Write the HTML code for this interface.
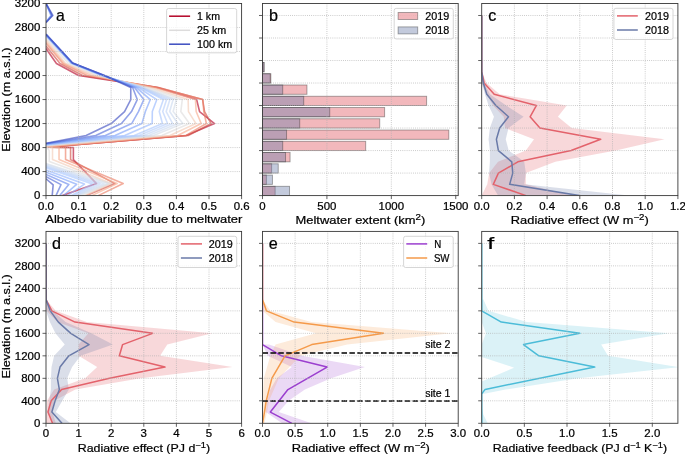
<!DOCTYPE html>
<html><head><meta charset="utf-8"><title>Figure</title><style>html,body{margin:0;padding:0;background:#fff;width:685px;height:455px;overflow:hidden}</style></head><body>
<svg width="685" height="455" viewBox="0 0 685 455" style="display:block;will-change:transform;font-family:'Liberation Sans', sans-serif">
<rect x="0" y="0" width="685" height="455" fill="#ffffff"/>
<clipPath id="clip1"><rect x="46" y="3.5" width="195.6" height="192.1"/></clipPath><g clip-path="url(#clip1)">
<polyline points="62.3,195.6 96.53,183.59 73.38,159.58 73.38,147.57 46,147.27 186.18,135.57 214.54,123.56 199.55,111.56 196.61,99.55 156.84,87.54 78.6,75.54 56.43,63.53 46,48.52" fill="none" stroke="#b40426" stroke-width="1.6" stroke-opacity="0.62" stroke-linejoin="round" stroke-linecap="butt"/>
<polyline points="86.37,195.6 114.79,183.59 70.58,159.58 70.58,147.57 46,147.27 188.19,135.57 211.13,123.56 204.56,111.56 202.63,99.55 158.44,87.54 82.61,75.54 60.04,63.53 46,45.94" fill="none" stroke="#d1493f" stroke-width="1.6" stroke-opacity="0.62" stroke-linejoin="round" stroke-linecap="butt"/>
<polyline points="98.16,195.6 123.2,183.59 65.56,159.58 65.56,147.57 46,147.09 185.53,135.57 206.39,123.56 203.85,111.56 202.74,99.55 157.62,87.54 87.08,75.54 62.95,63.53 46,43.36" fill="none" stroke="#eb7d62" stroke-width="1.6" stroke-opacity="0.62" stroke-linejoin="round" stroke-linecap="butt"/>
<polyline points="91.64,195.6 117.2,183.59 59.04,159.58 59.04,147.57 46,146.73 177.7,135.57 201.18,123.56 196.16,111.56 195.44,99.55 153.97,87.54 90.99,75.54 64.26,63.53 46,41.44" fill="none" stroke="#f7a98b" stroke-width="1.6" stroke-opacity="0.62" stroke-linejoin="round" stroke-linecap="butt"/>
<polyline points="85.12,195.6 111.2,183.59 52.52,159.58 52.52,147.57 46,146.37 169.88,135.57 195.96,123.56 188.46,111.56 188.14,99.55 150.32,87.54 94.9,75.54 65.56,63.53 46,39.52" fill="none" stroke="#f2cab5" stroke-width="1.6" stroke-opacity="0.62" stroke-linejoin="round" stroke-linecap="butt"/>
<polyline points="81.86,195.6 109.57,183.59 49.26,161.53 49.26,150.58 46,145.77 161.73,135.57 189.44,123.56 180.8,111.56 182.27,99.55 147.06,87.54 98.16,75.54 68.17,63.23 46,37.72" fill="none" stroke="#dddcdc" stroke-width="1.6" stroke-opacity="0.62" stroke-linejoin="round" stroke-linecap="butt"/>
<polyline points="78.6,195.6 107.94,183.59 46,163.48" fill="none" stroke="#d4dbe6" stroke-width="1.6" stroke-opacity="0.62" stroke-linejoin="round" stroke-linecap="butt"/>
<polyline points="46,145.17 153.58,135.57 182.92,123.56 173.14,111.56 176.4,99.55 143.8,87.54 101.42,75.54 70.78,62.93 46,35.92" fill="none" stroke="#d4dbe6" stroke-width="1.6" stroke-opacity="0.62" stroke-linejoin="round" stroke-linecap="butt"/>
<polyline points="76.71,195.6 104.03,183.68 46,164.58" fill="none" stroke="#cad8ef" stroke-width="1.6" stroke-opacity="0.62" stroke-linejoin="round" stroke-linecap="butt"/>
<polyline points="46,145.04 148.76,135.57 177.8,123.56 169.67,111.56 173.14,99.55 142.87,87.54 101.65,75.54 70.92,62.93 46,35.79" fill="none" stroke="#cad8ef" stroke-width="1.6" stroke-opacity="0.62" stroke-linejoin="round" stroke-linecap="butt"/>
<polyline points="74.83,195.6 100.12,183.77 46,165.67" fill="none" stroke="#c0d4f5" stroke-width="1.6" stroke-opacity="0.62" stroke-linejoin="round" stroke-linecap="butt"/>
<polyline points="46,144.9 143.94,135.57 172.67,123.56 166.2,111.56 169.88,99.55 141.94,87.54 101.89,75.54 71.06,62.93 46,35.66" fill="none" stroke="#c0d4f5" stroke-width="1.6" stroke-opacity="0.62" stroke-linejoin="round" stroke-linecap="butt"/>
<polyline points="72.94,195.6 96.2,183.85 46,166.76" fill="none" stroke="#b5cdfa" stroke-width="1.6" stroke-opacity="0.62" stroke-linejoin="round" stroke-linecap="butt"/>
<polyline points="46,144.76 139.12,135.57 167.55,123.56 162.73,111.56 166.62,99.55 141.01,87.54 102.12,75.54 71.2,62.93 46,35.53" fill="none" stroke="#b5cdfa" stroke-width="1.6" stroke-opacity="0.62" stroke-linejoin="round" stroke-linecap="butt"/>
<polyline points="71.06,195.6 92.29,183.94 46,167.86" fill="none" stroke="#aac7fd" stroke-width="1.6" stroke-opacity="0.62" stroke-linejoin="round" stroke-linecap="butt"/>
<polyline points="46,144.62 134.3,135.57 162.43,123.56 159.26,111.56 163.36,99.55 140.07,87.54 102.35,75.54 71.33,62.93 46,35.4" fill="none" stroke="#aac7fd" stroke-width="1.6" stroke-opacity="0.62" stroke-linejoin="round" stroke-linecap="butt"/>
<polyline points="67.28,195.6 84.47,184.11 46,170.04" fill="none" stroke="#93b5fe" stroke-width="1.6" stroke-opacity="0.62" stroke-linejoin="round" stroke-linecap="butt"/>
<polyline points="46,144.35 124.66,135.57 152.18,123.56 152.32,111.56 156.84,99.55 138.21,87.54 102.82,75.54 71.61,62.93 46,35.15" fill="none" stroke="#93b5fe" stroke-width="1.6" stroke-opacity="0.62" stroke-linejoin="round" stroke-linecap="butt"/>
<polyline points="63.51,195.6 76.64,184.28 46,172.23" fill="none" stroke="#7b9ff9" stroke-width="1.6" stroke-opacity="0.62" stroke-linejoin="round" stroke-linecap="butt"/>
<polyline points="46,144.08 115.02,135.57 141.94,123.56 145.38,111.56 150.32,99.55 136.35,87.54 103.28,75.54 71.89,62.93 46,34.89" fill="none" stroke="#7b9ff9" stroke-width="1.6" stroke-opacity="0.62" stroke-linejoin="round" stroke-linecap="butt"/>
<polyline points="46,22.09 50.89,15.51 46,3.5" fill="none" stroke="#7b9ff9" stroke-width="1.6" stroke-opacity="0.62" stroke-linejoin="round" stroke-linecap="butt"/>
<polyline points="59.74,195.6 68.82,184.45 46,174.42" fill="none" stroke="#6485ec" stroke-width="1.6" stroke-opacity="0.62" stroke-linejoin="round" stroke-linecap="butt"/>
<polyline points="46,143.8 105.38,135.57 131.69,123.56 138.44,111.56 143.8,99.55 134.49,87.54 103.75,75.54 72.17,62.93 46,34.63" fill="none" stroke="#6485ec" stroke-width="1.6" stroke-opacity="0.62" stroke-linejoin="round" stroke-linecap="butt"/>
<polyline points="46,22.24 51.54,15.51 46,3.5" fill="none" stroke="#6485ec" stroke-width="1.6" stroke-opacity="0.62" stroke-linejoin="round" stroke-linecap="butt"/>
<polyline points="55.97,195.6 61,184.62 46,176.6" fill="none" stroke="#4f69d9" stroke-width="1.6" stroke-opacity="0.62" stroke-linejoin="round" stroke-linecap="butt"/>
<polyline points="46,143.53 95.74,135.57 121.45,123.56 131.51,111.56 137.28,99.55 132.62,87.54 104.21,75.54 72.45,62.93 46,34.37" fill="none" stroke="#4f69d9" stroke-width="1.6" stroke-opacity="0.62" stroke-linejoin="round" stroke-linecap="butt"/>
<polyline points="46,22.38 52.19,15.51 46,3.5" fill="none" stroke="#4f69d9" stroke-width="1.6" stroke-opacity="0.62" stroke-linejoin="round" stroke-linecap="butt"/>
<polyline points="52.19,195.6 53.17,184.79 46,178.79" fill="none" stroke="#3b4cc0" stroke-width="1.6" stroke-opacity="0.62" stroke-linejoin="round" stroke-linecap="butt"/>
<polyline points="46,143.25 86.1,135.57 111.2,123.56 124.57,111.56 130.76,99.55 130.76,87.54 104.68,75.54 72.73,62.93 46,34.12" fill="none" stroke="#3b4cc0" stroke-width="1.6" stroke-opacity="0.62" stroke-linejoin="round" stroke-linecap="butt"/>
<polyline points="46,22.53 52.85,15.51 46,3.5" fill="none" stroke="#3b4cc0" stroke-width="1.6" stroke-opacity="0.62" stroke-linejoin="round" stroke-linecap="butt"/>
<line x1="78.6" y1="3.5" x2="78.6" y2="195.6" stroke="#b0b0b0" stroke-width="0.8" stroke-dasharray="0.8 1.32"/>
<line x1="111.2" y1="3.5" x2="111.2" y2="195.6" stroke="#b0b0b0" stroke-width="0.8" stroke-dasharray="0.8 1.32"/>
<line x1="143.8" y1="3.5" x2="143.8" y2="195.6" stroke="#b0b0b0" stroke-width="0.8" stroke-dasharray="0.8 1.32"/>
<line x1="176.4" y1="3.5" x2="176.4" y2="195.6" stroke="#b0b0b0" stroke-width="0.8" stroke-dasharray="0.8 1.32"/>
<line x1="209" y1="3.5" x2="209" y2="195.6" stroke="#b0b0b0" stroke-width="0.8" stroke-dasharray="0.8 1.32"/>
<line x1="46" y1="171.59" x2="241.6" y2="171.59" stroke="#b0b0b0" stroke-width="0.8" stroke-dasharray="0.8 1.32"/>
<line x1="46" y1="147.57" x2="241.6" y2="147.57" stroke="#b0b0b0" stroke-width="0.8" stroke-dasharray="0.8 1.32"/>
<line x1="46" y1="123.56" x2="241.6" y2="123.56" stroke="#b0b0b0" stroke-width="0.8" stroke-dasharray="0.8 1.32"/>
<line x1="46" y1="99.55" x2="241.6" y2="99.55" stroke="#b0b0b0" stroke-width="0.8" stroke-dasharray="0.8 1.32"/>
<line x1="46" y1="75.54" x2="241.6" y2="75.54" stroke="#b0b0b0" stroke-width="0.8" stroke-dasharray="0.8 1.32"/>
<line x1="46" y1="51.53" x2="241.6" y2="51.53" stroke="#b0b0b0" stroke-width="0.8" stroke-dasharray="0.8 1.32"/>
<line x1="46" y1="27.51" x2="241.6" y2="27.51" stroke="#b0b0b0" stroke-width="0.8" stroke-dasharray="0.8 1.32"/>
</g>
<line x1="46" y1="195.6" x2="46" y2="199.1" stroke="#383838" stroke-width="0.8"/>
<line x1="78.6" y1="195.6" x2="78.6" y2="199.1" stroke="#383838" stroke-width="0.8"/>
<line x1="111.2" y1="195.6" x2="111.2" y2="199.1" stroke="#383838" stroke-width="0.8"/>
<line x1="143.8" y1="195.6" x2="143.8" y2="199.1" stroke="#383838" stroke-width="0.8"/>
<line x1="176.4" y1="195.6" x2="176.4" y2="199.1" stroke="#383838" stroke-width="0.8"/>
<line x1="209" y1="195.6" x2="209" y2="199.1" stroke="#383838" stroke-width="0.8"/>
<line x1="241.6" y1="195.6" x2="241.6" y2="199.1" stroke="#383838" stroke-width="0.8"/>
<line x1="42.5" y1="195.6" x2="46" y2="195.6" stroke="#383838" stroke-width="0.8"/>
<line x1="42.5" y1="171.59" x2="46" y2="171.59" stroke="#383838" stroke-width="0.8"/>
<line x1="42.5" y1="147.57" x2="46" y2="147.57" stroke="#383838" stroke-width="0.8"/>
<line x1="42.5" y1="123.56" x2="46" y2="123.56" stroke="#383838" stroke-width="0.8"/>
<line x1="42.5" y1="99.55" x2="46" y2="99.55" stroke="#383838" stroke-width="0.8"/>
<line x1="42.5" y1="75.54" x2="46" y2="75.54" stroke="#383838" stroke-width="0.8"/>
<line x1="42.5" y1="51.53" x2="46" y2="51.53" stroke="#383838" stroke-width="0.8"/>
<line x1="42.5" y1="27.51" x2="46" y2="27.51" stroke="#383838" stroke-width="0.8"/>
<line x1="42.5" y1="3.5" x2="46" y2="3.5" stroke="#383838" stroke-width="0.8"/>
<rect x="46" y="3.5" width="195.6" height="192.1" fill="none" stroke="#383838" stroke-width="0.9"/>
<text x="46" y="209.6" font-size="10.4" text-anchor="middle" textLength="15.9" lengthAdjust="spacingAndGlyphs" fill="#000" stroke="#000" stroke-width="0.22">0.0</text>
<text x="78.6" y="209.6" font-size="10.4" text-anchor="middle" textLength="15.9" lengthAdjust="spacingAndGlyphs" fill="#000" stroke="#000" stroke-width="0.22">0.1</text>
<text x="111.2" y="209.6" font-size="10.4" text-anchor="middle" textLength="15.9" lengthAdjust="spacingAndGlyphs" fill="#000" stroke="#000" stroke-width="0.22">0.2</text>
<text x="143.8" y="209.6" font-size="10.4" text-anchor="middle" textLength="15.9" lengthAdjust="spacingAndGlyphs" fill="#000" stroke="#000" stroke-width="0.22">0.3</text>
<text x="176.4" y="209.6" font-size="10.4" text-anchor="middle" textLength="15.9" lengthAdjust="spacingAndGlyphs" fill="#000" stroke="#000" stroke-width="0.22">0.4</text>
<text x="209" y="209.6" font-size="10.4" text-anchor="middle" textLength="15.9" lengthAdjust="spacingAndGlyphs" fill="#000" stroke="#000" stroke-width="0.22">0.5</text>
<text x="241.6" y="209.6" font-size="10.4" text-anchor="middle" textLength="15.9" lengthAdjust="spacingAndGlyphs" fill="#000" stroke="#000" stroke-width="0.22">0.6</text>
<text x="40.3" y="199.3" font-size="10.4" text-anchor="end" textLength="6.37" lengthAdjust="spacingAndGlyphs" fill="#000" stroke="#000" stroke-width="0.22">0</text>
<text x="40.3" y="175.29" font-size="10.4" text-anchor="end" textLength="19.11" lengthAdjust="spacingAndGlyphs" fill="#000" stroke="#000" stroke-width="0.22">400</text>
<text x="40.3" y="151.27" font-size="10.4" text-anchor="end" textLength="19.11" lengthAdjust="spacingAndGlyphs" fill="#000" stroke="#000" stroke-width="0.22">800</text>
<text x="40.3" y="127.26" font-size="10.4" text-anchor="end" textLength="25.48" lengthAdjust="spacingAndGlyphs" fill="#000" stroke="#000" stroke-width="0.22">1200</text>
<text x="40.3" y="103.25" font-size="10.4" text-anchor="end" textLength="25.48" lengthAdjust="spacingAndGlyphs" fill="#000" stroke="#000" stroke-width="0.22">1600</text>
<text x="40.3" y="79.24" font-size="10.4" text-anchor="end" textLength="25.48" lengthAdjust="spacingAndGlyphs" fill="#000" stroke="#000" stroke-width="0.22">2000</text>
<text x="40.3" y="55.23" font-size="10.4" text-anchor="end" textLength="25.48" lengthAdjust="spacingAndGlyphs" fill="#000" stroke="#000" stroke-width="0.22">2400</text>
<text x="40.3" y="31.21" font-size="10.4" text-anchor="end" textLength="25.48" lengthAdjust="spacingAndGlyphs" fill="#000" stroke="#000" stroke-width="0.22">2800</text>
<text x="40.3" y="7.2" font-size="10.4" text-anchor="end" textLength="25.48" lengthAdjust="spacingAndGlyphs" fill="#000" stroke="#000" stroke-width="0.22">3200</text>
<text x="55.9" y="21.2" font-size="17" text-anchor="start" textLength="8.8" lengthAdjust="spacingAndGlyphs" fill="#000" stroke="#000" stroke-width="0.22">a</text>
<rect x="166.6" y="8.5" width="70.1" height="44.3" rx="2" ry="2" fill="#ffffff" fill-opacity="0.8" stroke="#cccccc" stroke-width="0.8"/>
<line x1="169.1" y1="16.2" x2="190.1" y2="16.2" stroke="#b40426" stroke-width="1.5"/>
<text x="197" y="19.8" font-size="10.4" text-anchor="start" textLength="23" lengthAdjust="spacingAndGlyphs" fill="#000" stroke="#000" stroke-width="0.22">1 km</text>
<line x1="169.1" y1="30.3" x2="190.1" y2="30.3" stroke="#dddcdc" stroke-width="1.5"/>
<text x="197" y="33.9" font-size="10.4" text-anchor="start" textLength="29.3" lengthAdjust="spacingAndGlyphs" fill="#000" stroke="#000" stroke-width="0.22">25 km</text>
<line x1="169.1" y1="44.2" x2="190.1" y2="44.2" stroke="#3b4cc0" stroke-width="1.5"/>
<text x="197" y="47.8" font-size="10.4" text-anchor="start" textLength="35.2" lengthAdjust="spacingAndGlyphs" fill="#000" stroke="#000" stroke-width="0.22">100 km</text>
<text x="143.8" y="222.5" font-size="11.4" text-anchor="middle" textLength="197" lengthAdjust="spacingAndGlyphs" fill="#000" stroke="#000" stroke-width="0.22">Albedo variability due to meltwater</text>
<clipPath id="clip2"><rect x="262.5" y="3.5" width="195.7" height="192.1"/></clipPath><g clip-path="url(#clip2)">
<rect x="262.5" y="186.31" width="12.63" height="9.29" fill="#e3626b" fill-opacity="0.45" stroke="#333" stroke-opacity="0.45" stroke-width="0.9"/>
<rect x="262.5" y="175.06" width="3.87" height="9.29" fill="#e3626b" fill-opacity="0.45" stroke="#333" stroke-opacity="0.45" stroke-width="0.9"/>
<rect x="262.5" y="163.8" width="9.15" height="9.29" fill="#e3626b" fill-opacity="0.45" stroke="#333" stroke-opacity="0.45" stroke-width="0.9"/>
<rect x="262.5" y="152.54" width="27.57" height="9.29" fill="#e3626b" fill-opacity="0.45" stroke="#333" stroke-opacity="0.45" stroke-width="0.9"/>
<rect x="262.5" y="141.29" width="103.2" height="9.29" fill="#e3626b" fill-opacity="0.45" stroke="#333" stroke-opacity="0.45" stroke-width="0.9"/>
<rect x="262.5" y="130.03" width="186.3" height="9.29" fill="#e3626b" fill-opacity="0.45" stroke="#333" stroke-opacity="0.45" stroke-width="0.9"/>
<rect x="262.5" y="118.77" width="117.24" height="9.29" fill="#e3626b" fill-opacity="0.45" stroke="#333" stroke-opacity="0.45" stroke-width="0.9"/>
<rect x="262.5" y="107.51" width="122.14" height="9.29" fill="#e3626b" fill-opacity="0.45" stroke="#333" stroke-opacity="0.45" stroke-width="0.9"/>
<rect x="262.5" y="96.26" width="164.14" height="9.29" fill="#e3626b" fill-opacity="0.45" stroke="#333" stroke-opacity="0.45" stroke-width="0.9"/>
<rect x="262.5" y="85" width="44.45" height="9.29" fill="#e3626b" fill-opacity="0.45" stroke="#333" stroke-opacity="0.45" stroke-width="0.9"/>
<rect x="262.5" y="73.74" width="8.37" height="9.29" fill="#e3626b" fill-opacity="0.45" stroke="#333" stroke-opacity="0.45" stroke-width="0.9"/>
<rect x="262.5" y="62.49" width="1.55" height="9.29" fill="#e3626b" fill-opacity="0.45" stroke="#333" stroke-opacity="0.45" stroke-width="0.9"/>
<rect x="262.5" y="186.31" width="27.06" height="9.29" fill="#6a7aa8" fill-opacity="0.4" stroke="#333" stroke-opacity="0.45" stroke-width="0.9"/>
<rect x="262.5" y="175.06" width="9.92" height="9.29" fill="#6a7aa8" fill-opacity="0.4" stroke="#333" stroke-opacity="0.45" stroke-width="0.9"/>
<rect x="262.5" y="163.8" width="15.72" height="9.29" fill="#6a7aa8" fill-opacity="0.4" stroke="#333" stroke-opacity="0.45" stroke-width="0.9"/>
<rect x="262.5" y="152.54" width="23.06" height="9.29" fill="#6a7aa8" fill-opacity="0.4" stroke="#333" stroke-opacity="0.45" stroke-width="0.9"/>
<rect x="262.5" y="141.29" width="20.23" height="9.29" fill="#6a7aa8" fill-opacity="0.4" stroke="#333" stroke-opacity="0.45" stroke-width="0.9"/>
<rect x="262.5" y="130.03" width="24.09" height="9.29" fill="#6a7aa8" fill-opacity="0.4" stroke="#333" stroke-opacity="0.45" stroke-width="0.9"/>
<rect x="262.5" y="118.77" width="37.23" height="9.29" fill="#6a7aa8" fill-opacity="0.4" stroke="#333" stroke-opacity="0.45" stroke-width="0.9"/>
<rect x="262.5" y="107.51" width="67.25" height="9.29" fill="#6a7aa8" fill-opacity="0.4" stroke="#333" stroke-opacity="0.45" stroke-width="0.9"/>
<rect x="262.5" y="96.26" width="41.23" height="9.29" fill="#6a7aa8" fill-opacity="0.4" stroke="#333" stroke-opacity="0.45" stroke-width="0.9"/>
<rect x="262.5" y="85" width="20.23" height="9.29" fill="#6a7aa8" fill-opacity="0.4" stroke="#333" stroke-opacity="0.45" stroke-width="0.9"/>
<rect x="262.5" y="73.74" width="7.73" height="9.29" fill="#6a7aa8" fill-opacity="0.4" stroke="#333" stroke-opacity="0.45" stroke-width="0.9"/>
<rect x="262.5" y="62.49" width="1.55" height="9.29" fill="#6a7aa8" fill-opacity="0.4" stroke="#333" stroke-opacity="0.45" stroke-width="0.9"/>
<line x1="326.92" y1="3.5" x2="326.92" y2="195.6" stroke="#b0b0b0" stroke-width="0.8" stroke-dasharray="0.8 1.32"/>
<line x1="391.33" y1="3.5" x2="391.33" y2="195.6" stroke="#b0b0b0" stroke-width="0.8" stroke-dasharray="0.8 1.32"/>
<line x1="455.75" y1="3.5" x2="455.75" y2="195.6" stroke="#b0b0b0" stroke-width="0.8" stroke-dasharray="0.8 1.32"/>
<line x1="262.5" y1="173.09" x2="458.2" y2="173.09" stroke="#b0b0b0" stroke-width="0.8" stroke-dasharray="0.8 1.32"/>
<line x1="262.5" y1="150.57" x2="458.2" y2="150.57" stroke="#b0b0b0" stroke-width="0.8" stroke-dasharray="0.8 1.32"/>
<line x1="262.5" y1="128.06" x2="458.2" y2="128.06" stroke="#b0b0b0" stroke-width="0.8" stroke-dasharray="0.8 1.32"/>
<line x1="262.5" y1="105.54" x2="458.2" y2="105.54" stroke="#b0b0b0" stroke-width="0.8" stroke-dasharray="0.8 1.32"/>
<line x1="262.5" y1="83.03" x2="458.2" y2="83.03" stroke="#b0b0b0" stroke-width="0.8" stroke-dasharray="0.8 1.32"/>
<line x1="262.5" y1="60.52" x2="458.2" y2="60.52" stroke="#b0b0b0" stroke-width="0.8" stroke-dasharray="0.8 1.32"/>
<line x1="262.5" y1="38" x2="458.2" y2="38" stroke="#b0b0b0" stroke-width="0.8" stroke-dasharray="0.8 1.32"/>
<line x1="262.5" y1="15.49" x2="458.2" y2="15.49" stroke="#b0b0b0" stroke-width="0.8" stroke-dasharray="0.8 1.32"/>
</g>
<line x1="262.5" y1="195.6" x2="262.5" y2="199.1" stroke="#383838" stroke-width="0.8"/>
<line x1="326.92" y1="195.6" x2="326.92" y2="199.1" stroke="#383838" stroke-width="0.8"/>
<line x1="391.33" y1="195.6" x2="391.33" y2="199.1" stroke="#383838" stroke-width="0.8"/>
<line x1="455.75" y1="195.6" x2="455.75" y2="199.1" stroke="#383838" stroke-width="0.8"/>
<line x1="259" y1="195.6" x2="262.5" y2="195.6" stroke="#383838" stroke-width="0.8"/>
<line x1="259" y1="173.09" x2="262.5" y2="173.09" stroke="#383838" stroke-width="0.8"/>
<line x1="259" y1="150.57" x2="262.5" y2="150.57" stroke="#383838" stroke-width="0.8"/>
<line x1="259" y1="128.06" x2="262.5" y2="128.06" stroke="#383838" stroke-width="0.8"/>
<line x1="259" y1="105.54" x2="262.5" y2="105.54" stroke="#383838" stroke-width="0.8"/>
<line x1="259" y1="83.03" x2="262.5" y2="83.03" stroke="#383838" stroke-width="0.8"/>
<line x1="259" y1="60.52" x2="262.5" y2="60.52" stroke="#383838" stroke-width="0.8"/>
<line x1="259" y1="38" x2="262.5" y2="38" stroke="#383838" stroke-width="0.8"/>
<line x1="259" y1="15.49" x2="262.5" y2="15.49" stroke="#383838" stroke-width="0.8"/>
<rect x="262.5" y="3.5" width="195.7" height="192.1" fill="none" stroke="#383838" stroke-width="0.9"/>
<text x="262.5" y="209.6" font-size="10.4" text-anchor="middle" textLength="6.36" lengthAdjust="spacingAndGlyphs" fill="#000" stroke="#000" stroke-width="0.22">0</text>
<text x="326.92" y="209.6" font-size="10.4" text-anchor="middle" textLength="19.08" lengthAdjust="spacingAndGlyphs" fill="#000" stroke="#000" stroke-width="0.22">500</text>
<text x="391.33" y="209.6" font-size="10.4" text-anchor="middle" textLength="25.44" lengthAdjust="spacingAndGlyphs" fill="#000" stroke="#000" stroke-width="0.22">1000</text>
<text x="455.75" y="209.6" font-size="10.4" text-anchor="middle" textLength="25.44" lengthAdjust="spacingAndGlyphs" fill="#000" stroke="#000" stroke-width="0.22">1500</text>
<text x="269.1" y="21.2" font-size="17" text-anchor="start" textLength="9" lengthAdjust="spacingAndGlyphs" fill="#000" stroke="#000" stroke-width="0.22">b</text>
<rect x="394.2" y="8.4" width="59.1" height="30.5" rx="2" ry="2" fill="#ffffff" fill-opacity="0.8" stroke="#cccccc" stroke-width="0.8"/>
<rect x="398.1" y="12.5" width="19.6" height="7" fill="#e3626b" fill-opacity="0.45" stroke="#333" stroke-opacity="0.45" stroke-width="0.9"/>
<rect x="398.1" y="26.9" width="19.6" height="7" fill="#6a7aa8" fill-opacity="0.4" stroke="#333" stroke-opacity="0.45" stroke-width="0.9"/>
<text x="425.2" y="19.7" font-size="10.4" text-anchor="start" textLength="24" lengthAdjust="spacingAndGlyphs" fill="#000" stroke="#000" stroke-width="0.22">2019</text>
<text x="425.2" y="33.8" font-size="10.4" text-anchor="start" textLength="24" lengthAdjust="spacingAndGlyphs" fill="#000" stroke="#000" stroke-width="0.22">2018</text>
<text x="360.4" y="224.2" font-size="11.4" text-anchor="middle" textLength="129.7" lengthAdjust="spacingAndGlyphs" fill="#000" stroke="#000" stroke-width="0.22">Meltwater extent (km<tspan dy="-4.6" font-size="8.6">2</tspan><tspan dy="4.6">)</tspan></text>
<clipPath id="clip3"><rect x="481.7" y="3.5" width="196.2" height="192.1"/></clipPath><g clip-path="url(#clip3)">
<polygon points="481.7,195.6 487.26,184.34 489.22,173.09 498.05,161.83 525.85,150.57 534.02,139.32 505.08,128.06 503.77,116.8 493.14,105.54 486.6,94.29 481.7,83.03 481.7,71.77 481.7,71.77 486.6,83.03 499.69,94.29 566.72,105.54 557.89,116.8 571.62,128.06 664.49,139.32 615.77,150.57 555.27,161.83 525.85,173.09 525.85,184.34 571.62,195.6" fill="#e3626b" fill-opacity="0.25" stroke="none"/>
<polygon points="498.05,195.6 491.51,184.34 489.06,173.09 489.88,161.83 489.88,150.57 488.57,139.32 489.88,128.06 493.96,116.8 488.57,105.54 484.97,94.29 481.7,83.03 481.7,71.77 481.7,71.77 484.15,83.03 489.88,94.29 506.22,105.54 523.56,116.8 508.51,128.06 505.73,139.32 508.68,150.57 524.21,161.83 525.85,173.09 524.21,184.34 628.85,195.6" fill="#6a7aa8" fill-opacity="0.25" stroke="none"/>
<polyline points="526.01,195.6 493.31,184.34 498.38,173.09 517.83,161.83 571.13,150.57 600.73,139.32 539.91,128.06 530.1,116.8 536.31,105.54 494.21,94.29 484.15,83.03 481.7,71.77 481.7,15.49" fill="none" stroke="#e3626b" stroke-width="1.5" stroke-linejoin="round" stroke-linecap="butt"/>
<polyline points="579.31,195.6 509.66,184.34 512.76,173.09 511.78,161.83 498.38,150.57 496.41,139.32 499.69,128.06 508.51,116.8 495.92,105.54 486.77,94.29 483.33,83.03 481.7,71.77 481.7,15.49" fill="none" stroke="#6a7aa8" stroke-width="1.5" stroke-linejoin="round" stroke-linecap="butt"/>
<line x1="514.4" y1="3.5" x2="514.4" y2="195.6" stroke="#b0b0b0" stroke-width="0.8" stroke-dasharray="0.8 1.32"/>
<line x1="547.1" y1="3.5" x2="547.1" y2="195.6" stroke="#b0b0b0" stroke-width="0.8" stroke-dasharray="0.8 1.32"/>
<line x1="579.8" y1="3.5" x2="579.8" y2="195.6" stroke="#b0b0b0" stroke-width="0.8" stroke-dasharray="0.8 1.32"/>
<line x1="612.5" y1="3.5" x2="612.5" y2="195.6" stroke="#b0b0b0" stroke-width="0.8" stroke-dasharray="0.8 1.32"/>
<line x1="645.2" y1="3.5" x2="645.2" y2="195.6" stroke="#b0b0b0" stroke-width="0.8" stroke-dasharray="0.8 1.32"/>
<line x1="481.7" y1="173.09" x2="677.9" y2="173.09" stroke="#b0b0b0" stroke-width="0.8" stroke-dasharray="0.8 1.32"/>
<line x1="481.7" y1="150.57" x2="677.9" y2="150.57" stroke="#b0b0b0" stroke-width="0.8" stroke-dasharray="0.8 1.32"/>
<line x1="481.7" y1="128.06" x2="677.9" y2="128.06" stroke="#b0b0b0" stroke-width="0.8" stroke-dasharray="0.8 1.32"/>
<line x1="481.7" y1="105.54" x2="677.9" y2="105.54" stroke="#b0b0b0" stroke-width="0.8" stroke-dasharray="0.8 1.32"/>
<line x1="481.7" y1="83.03" x2="677.9" y2="83.03" stroke="#b0b0b0" stroke-width="0.8" stroke-dasharray="0.8 1.32"/>
<line x1="481.7" y1="60.52" x2="677.9" y2="60.52" stroke="#b0b0b0" stroke-width="0.8" stroke-dasharray="0.8 1.32"/>
<line x1="481.7" y1="38" x2="677.9" y2="38" stroke="#b0b0b0" stroke-width="0.8" stroke-dasharray="0.8 1.32"/>
<line x1="481.7" y1="15.49" x2="677.9" y2="15.49" stroke="#b0b0b0" stroke-width="0.8" stroke-dasharray="0.8 1.32"/>
</g>
<line x1="481.7" y1="195.6" x2="481.7" y2="199.1" stroke="#383838" stroke-width="0.8"/>
<line x1="514.4" y1="195.6" x2="514.4" y2="199.1" stroke="#383838" stroke-width="0.8"/>
<line x1="547.1" y1="195.6" x2="547.1" y2="199.1" stroke="#383838" stroke-width="0.8"/>
<line x1="579.8" y1="195.6" x2="579.8" y2="199.1" stroke="#383838" stroke-width="0.8"/>
<line x1="612.5" y1="195.6" x2="612.5" y2="199.1" stroke="#383838" stroke-width="0.8"/>
<line x1="645.2" y1="195.6" x2="645.2" y2="199.1" stroke="#383838" stroke-width="0.8"/>
<line x1="677.9" y1="195.6" x2="677.9" y2="199.1" stroke="#383838" stroke-width="0.8"/>
<line x1="478.2" y1="195.6" x2="481.7" y2="195.6" stroke="#383838" stroke-width="0.8"/>
<line x1="478.2" y1="173.09" x2="481.7" y2="173.09" stroke="#383838" stroke-width="0.8"/>
<line x1="478.2" y1="150.57" x2="481.7" y2="150.57" stroke="#383838" stroke-width="0.8"/>
<line x1="478.2" y1="128.06" x2="481.7" y2="128.06" stroke="#383838" stroke-width="0.8"/>
<line x1="478.2" y1="105.54" x2="481.7" y2="105.54" stroke="#383838" stroke-width="0.8"/>
<line x1="478.2" y1="83.03" x2="481.7" y2="83.03" stroke="#383838" stroke-width="0.8"/>
<line x1="478.2" y1="60.52" x2="481.7" y2="60.52" stroke="#383838" stroke-width="0.8"/>
<line x1="478.2" y1="38" x2="481.7" y2="38" stroke="#383838" stroke-width="0.8"/>
<line x1="478.2" y1="15.49" x2="481.7" y2="15.49" stroke="#383838" stroke-width="0.8"/>
<rect x="481.7" y="3.5" width="196.2" height="192.1" fill="none" stroke="#383838" stroke-width="0.9"/>
<text x="481.7" y="209.6" font-size="10.4" text-anchor="middle" textLength="15.9" lengthAdjust="spacingAndGlyphs" fill="#000" stroke="#000" stroke-width="0.22">0.0</text>
<text x="514.4" y="209.6" font-size="10.4" text-anchor="middle" textLength="15.9" lengthAdjust="spacingAndGlyphs" fill="#000" stroke="#000" stroke-width="0.22">0.2</text>
<text x="547.1" y="209.6" font-size="10.4" text-anchor="middle" textLength="15.9" lengthAdjust="spacingAndGlyphs" fill="#000" stroke="#000" stroke-width="0.22">0.4</text>
<text x="579.8" y="209.6" font-size="10.4" text-anchor="middle" textLength="15.9" lengthAdjust="spacingAndGlyphs" fill="#000" stroke="#000" stroke-width="0.22">0.6</text>
<text x="612.5" y="209.6" font-size="10.4" text-anchor="middle" textLength="15.9" lengthAdjust="spacingAndGlyphs" fill="#000" stroke="#000" stroke-width="0.22">0.8</text>
<text x="645.2" y="209.6" font-size="10.4" text-anchor="middle" textLength="15.9" lengthAdjust="spacingAndGlyphs" fill="#000" stroke="#000" stroke-width="0.22">1.0</text>
<text x="677.9" y="209.6" font-size="10.4" text-anchor="middle" textLength="15.9" lengthAdjust="spacingAndGlyphs" fill="#000" stroke="#000" stroke-width="0.22">1.2</text>
<text x="488.3" y="21.2" font-size="17" text-anchor="start" textLength="8" lengthAdjust="spacingAndGlyphs" fill="#000" stroke="#000" stroke-width="0.22">c</text>
<rect x="613.9" y="8.3" width="59.1" height="31.2" rx="2" ry="2" fill="#ffffff" fill-opacity="0.8" stroke="#cccccc" stroke-width="0.8"/>
<line x1="617" y1="15.9" x2="637.8" y2="15.9" stroke="#e3626b" stroke-width="1.5"/>
<line x1="617" y1="30" x2="637.8" y2="30" stroke="#6a7aa8" stroke-width="1.5"/>
<text x="645" y="19.5" font-size="10.4" text-anchor="start" textLength="24" lengthAdjust="spacingAndGlyphs" fill="#000" stroke="#000" stroke-width="0.22">2019</text>
<text x="645" y="33.6" font-size="10.4" text-anchor="start" textLength="24" lengthAdjust="spacingAndGlyphs" fill="#000" stroke="#000" stroke-width="0.22">2018</text>
<text x="579.8" y="224.2" font-size="11.4" text-anchor="middle" textLength="137.9" lengthAdjust="spacingAndGlyphs" fill="#000" stroke="#000" stroke-width="0.22">Radiative effect (W m<tspan dy="-4.6" font-size="8.6">−2</tspan><tspan dy="4.6">)</tspan></text>
<clipPath id="clip4"><rect x="46" y="231.4" width="195.6" height="191.9"/></clipPath><g clip-path="url(#clip4)">
<polygon points="46,423.3 46.65,412.05 46.98,400.81 54.15,389.56 85.12,378.32 97.18,367.07 78.6,355.83 78.6,344.58 88.38,333.34 57.41,322.09 46.65,310.85 46,299.6 46,299.6 55.78,310.85 86.75,322.09 212.26,333.34 167.27,344.58 160.1,355.83 232.47,367.07 140.54,378.32 75.34,389.56 54.15,400.81 52.52,412.05 55.78,423.3" fill="#e3626b" fill-opacity="0.25" stroke="none"/>
<polygon points="52.52,423.3 47.63,412.05 49.26,400.81 50.89,389.56 50.89,378.32 51.54,367.07 54.15,355.83 64.75,344.58 55.45,333.34 49.91,322.09 46,310.85 46,299.6 46,299.6 52.52,310.85 65.56,322.09 91.31,333.34 112.83,344.58 80.56,355.83 72.08,367.07 67.19,378.32 68.82,389.56 62.3,400.81 55.78,412.05 70.45,423.3" fill="#6a7aa8" fill-opacity="0.25" stroke="none"/>
<polyline points="52.52,423.3 47.96,412.05 51.22,400.81 61.65,389.56 109.57,378.32 164.99,367.07 119.35,355.83 122.61,344.58 152.6,333.34 75.01,322.09 51.87,310.85 46,299.6 46,243.38" fill="none" stroke="#e3626b" stroke-width="1.5" stroke-linejoin="round" stroke-linecap="butt"/>
<polyline points="61.97,423.3 51.87,412.05 55.13,400.81 59.37,389.56 57.41,378.32 60.02,367.07 68.82,355.83 89.03,344.58 70.78,333.34 58.39,322.09 50.24,310.85 46,299.6 46,243.38" fill="none" stroke="#6a7aa8" stroke-width="1.5" stroke-linejoin="round" stroke-linecap="butt"/>
<line x1="78.6" y1="231.4" x2="78.6" y2="423.3" stroke="#b0b0b0" stroke-width="0.8" stroke-dasharray="0.8 1.32"/>
<line x1="111.2" y1="231.4" x2="111.2" y2="423.3" stroke="#b0b0b0" stroke-width="0.8" stroke-dasharray="0.8 1.32"/>
<line x1="143.8" y1="231.4" x2="143.8" y2="423.3" stroke="#b0b0b0" stroke-width="0.8" stroke-dasharray="0.8 1.32"/>
<line x1="176.4" y1="231.4" x2="176.4" y2="423.3" stroke="#b0b0b0" stroke-width="0.8" stroke-dasharray="0.8 1.32"/>
<line x1="209" y1="231.4" x2="209" y2="423.3" stroke="#b0b0b0" stroke-width="0.8" stroke-dasharray="0.8 1.32"/>
<line x1="46" y1="400.81" x2="241.6" y2="400.81" stroke="#b0b0b0" stroke-width="0.8" stroke-dasharray="0.8 1.32"/>
<line x1="46" y1="378.32" x2="241.6" y2="378.32" stroke="#b0b0b0" stroke-width="0.8" stroke-dasharray="0.8 1.32"/>
<line x1="46" y1="355.83" x2="241.6" y2="355.83" stroke="#b0b0b0" stroke-width="0.8" stroke-dasharray="0.8 1.32"/>
<line x1="46" y1="333.34" x2="241.6" y2="333.34" stroke="#b0b0b0" stroke-width="0.8" stroke-dasharray="0.8 1.32"/>
<line x1="46" y1="310.85" x2="241.6" y2="310.85" stroke="#b0b0b0" stroke-width="0.8" stroke-dasharray="0.8 1.32"/>
<line x1="46" y1="288.36" x2="241.6" y2="288.36" stroke="#b0b0b0" stroke-width="0.8" stroke-dasharray="0.8 1.32"/>
<line x1="46" y1="265.87" x2="241.6" y2="265.87" stroke="#b0b0b0" stroke-width="0.8" stroke-dasharray="0.8 1.32"/>
<line x1="46" y1="243.38" x2="241.6" y2="243.38" stroke="#b0b0b0" stroke-width="0.8" stroke-dasharray="0.8 1.32"/>
</g>
<line x1="46" y1="423.3" x2="46" y2="426.8" stroke="#383838" stroke-width="0.8"/>
<line x1="78.6" y1="423.3" x2="78.6" y2="426.8" stroke="#383838" stroke-width="0.8"/>
<line x1="111.2" y1="423.3" x2="111.2" y2="426.8" stroke="#383838" stroke-width="0.8"/>
<line x1="143.8" y1="423.3" x2="143.8" y2="426.8" stroke="#383838" stroke-width="0.8"/>
<line x1="176.4" y1="423.3" x2="176.4" y2="426.8" stroke="#383838" stroke-width="0.8"/>
<line x1="209" y1="423.3" x2="209" y2="426.8" stroke="#383838" stroke-width="0.8"/>
<line x1="241.6" y1="423.3" x2="241.6" y2="426.8" stroke="#383838" stroke-width="0.8"/>
<line x1="42.5" y1="423.3" x2="46" y2="423.3" stroke="#383838" stroke-width="0.8"/>
<line x1="42.5" y1="400.81" x2="46" y2="400.81" stroke="#383838" stroke-width="0.8"/>
<line x1="42.5" y1="378.32" x2="46" y2="378.32" stroke="#383838" stroke-width="0.8"/>
<line x1="42.5" y1="355.83" x2="46" y2="355.83" stroke="#383838" stroke-width="0.8"/>
<line x1="42.5" y1="333.34" x2="46" y2="333.34" stroke="#383838" stroke-width="0.8"/>
<line x1="42.5" y1="310.85" x2="46" y2="310.85" stroke="#383838" stroke-width="0.8"/>
<line x1="42.5" y1="288.36" x2="46" y2="288.36" stroke="#383838" stroke-width="0.8"/>
<line x1="42.5" y1="265.87" x2="46" y2="265.87" stroke="#383838" stroke-width="0.8"/>
<line x1="42.5" y1="243.38" x2="46" y2="243.38" stroke="#383838" stroke-width="0.8"/>
<rect x="46" y="231.4" width="195.6" height="191.9" fill="none" stroke="#383838" stroke-width="0.9"/>
<text x="46" y="437.3" font-size="10.4" text-anchor="middle" textLength="6.36" lengthAdjust="spacingAndGlyphs" fill="#000" stroke="#000" stroke-width="0.22">0</text>
<text x="78.6" y="437.3" font-size="10.4" text-anchor="middle" textLength="6.36" lengthAdjust="spacingAndGlyphs" fill="#000" stroke="#000" stroke-width="0.22">1</text>
<text x="111.2" y="437.3" font-size="10.4" text-anchor="middle" textLength="6.36" lengthAdjust="spacingAndGlyphs" fill="#000" stroke="#000" stroke-width="0.22">2</text>
<text x="143.8" y="437.3" font-size="10.4" text-anchor="middle" textLength="6.36" lengthAdjust="spacingAndGlyphs" fill="#000" stroke="#000" stroke-width="0.22">3</text>
<text x="176.4" y="437.3" font-size="10.4" text-anchor="middle" textLength="6.36" lengthAdjust="spacingAndGlyphs" fill="#000" stroke="#000" stroke-width="0.22">4</text>
<text x="209" y="437.3" font-size="10.4" text-anchor="middle" textLength="6.36" lengthAdjust="spacingAndGlyphs" fill="#000" stroke="#000" stroke-width="0.22">5</text>
<text x="241.6" y="437.3" font-size="10.4" text-anchor="middle" textLength="6.36" lengthAdjust="spacingAndGlyphs" fill="#000" stroke="#000" stroke-width="0.22">6</text>
<text x="40.3" y="427" font-size="10.4" text-anchor="end" textLength="6.37" lengthAdjust="spacingAndGlyphs" fill="#000" stroke="#000" stroke-width="0.22">0</text>
<text x="40.3" y="404.51" font-size="10.4" text-anchor="end" textLength="19.11" lengthAdjust="spacingAndGlyphs" fill="#000" stroke="#000" stroke-width="0.22">400</text>
<text x="40.3" y="382.02" font-size="10.4" text-anchor="end" textLength="19.11" lengthAdjust="spacingAndGlyphs" fill="#000" stroke="#000" stroke-width="0.22">800</text>
<text x="40.3" y="359.53" font-size="10.4" text-anchor="end" textLength="25.48" lengthAdjust="spacingAndGlyphs" fill="#000" stroke="#000" stroke-width="0.22">1200</text>
<text x="40.3" y="337.04" font-size="10.4" text-anchor="end" textLength="25.48" lengthAdjust="spacingAndGlyphs" fill="#000" stroke="#000" stroke-width="0.22">1600</text>
<text x="40.3" y="314.55" font-size="10.4" text-anchor="end" textLength="25.48" lengthAdjust="spacingAndGlyphs" fill="#000" stroke="#000" stroke-width="0.22">2000</text>
<text x="40.3" y="292.06" font-size="10.4" text-anchor="end" textLength="25.48" lengthAdjust="spacingAndGlyphs" fill="#000" stroke="#000" stroke-width="0.22">2400</text>
<text x="40.3" y="269.57" font-size="10.4" text-anchor="end" textLength="25.48" lengthAdjust="spacingAndGlyphs" fill="#000" stroke="#000" stroke-width="0.22">2800</text>
<text x="40.3" y="247.08" font-size="10.4" text-anchor="end" textLength="25.48" lengthAdjust="spacingAndGlyphs" fill="#000" stroke="#000" stroke-width="0.22">3200</text>
<text x="52" y="249.1" font-size="17" text-anchor="start" textLength="9" lengthAdjust="spacingAndGlyphs" fill="#000" stroke="#000" stroke-width="0.22">d</text>
<rect x="178" y="236.3" width="58.7" height="31.2" rx="2" ry="2" fill="#ffffff" fill-opacity="0.8" stroke="#cccccc" stroke-width="0.8"/>
<line x1="180.9" y1="243.9" x2="202" y2="243.9" stroke="#e3626b" stroke-width="1.5"/>
<line x1="180.9" y1="258" x2="202" y2="258" stroke="#6a7aa8" stroke-width="1.5"/>
<text x="208.8" y="247.5" font-size="10.4" text-anchor="start" textLength="24" lengthAdjust="spacingAndGlyphs" fill="#000" stroke="#000" stroke-width="0.22">2019</text>
<text x="208.8" y="261.6" font-size="10.4" text-anchor="start" textLength="24" lengthAdjust="spacingAndGlyphs" fill="#000" stroke="#000" stroke-width="0.22">2018</text>
<text x="143.9" y="452.1" font-size="11.4" text-anchor="middle" textLength="132.4" lengthAdjust="spacingAndGlyphs" fill="#000" stroke="#000" stroke-width="0.22">Radiative effect (PJ d<tspan dy="-4.6" font-size="8.6">−1</tspan><tspan dy="4.6">)</tspan></text>
<clipPath id="clip5"><rect x="262.5" y="231.4" width="195.7" height="191.9"/></clipPath><g clip-path="url(#clip5)">
<polygon points="282.07,423.3 265.76,412.05 267.07,400.81 270.33,389.56 276.85,378.32 291.86,367.07 267.72,355.83 262.5,344.58 269.02,344.58 301.64,355.83 364.92,367.07 331,378.32 304.9,389.56 288.59,400.81 278.81,412.05 311.43,423.3" fill="#9b3fcf" fill-opacity="0.2" stroke="none"/>
<polygon points="262.5,423.3 262.5,412.05 262.5,400.81 263.8,378.32 270.33,355.83 275.55,344.58 315.99,333.34 275.55,322.09 262.5,310.85 262.5,299.6 262.5,299.6 270.33,310.85 311.43,322.09 451.02,333.34 347.3,344.58 300.34,355.83 278.81,378.32 269.02,400.81 267.07,412.05 264.46,423.3" fill="#f59a4a" fill-opacity="0.2" stroke="none"/>
<polyline points="291.86,423.3 270.33,412.05 287.94,389.56 327.08,367.07 281.42,355.83 262.5,344.58 262.5,243.38" fill="none" stroke="#9b3fcf" stroke-width="1.5" stroke-linejoin="round" stroke-linecap="butt"/>
<polyline points="262.5,423.3 264.46,412.05 266.22,400.81 271.83,378.32 285.01,355.83 311.75,344.58 383.51,333.34 294.14,322.09 266.41,310.85 262.5,299.6 262.5,243.38" fill="none" stroke="#f59a4a" stroke-width="1.5" stroke-linejoin="round" stroke-linecap="butt"/>
<line x1="262.5" y1="353.1" x2="458.2" y2="353.1" stroke="#000" stroke-width="1.5" stroke-dasharray="5.5 2.4"/>
<line x1="262.5" y1="400.9" x2="458.2" y2="400.9" stroke="#000" stroke-width="1.5" stroke-dasharray="5.5 2.4"/>
<text x="425.2" y="348.4" font-size="10.4" text-anchor="start" textLength="25.3" lengthAdjust="spacingAndGlyphs" fill="#000" stroke="#000" stroke-width="0.22">site 2</text>
<text x="425.2" y="396.6" font-size="10.4" text-anchor="start" textLength="25.3" lengthAdjust="spacingAndGlyphs" fill="#000" stroke="#000" stroke-width="0.22">site 1</text>
<line x1="295.12" y1="231.4" x2="295.12" y2="423.3" stroke="#b0b0b0" stroke-width="0.8" stroke-dasharray="0.8 1.32"/>
<line x1="327.73" y1="231.4" x2="327.73" y2="423.3" stroke="#b0b0b0" stroke-width="0.8" stroke-dasharray="0.8 1.32"/>
<line x1="360.35" y1="231.4" x2="360.35" y2="423.3" stroke="#b0b0b0" stroke-width="0.8" stroke-dasharray="0.8 1.32"/>
<line x1="392.97" y1="231.4" x2="392.97" y2="423.3" stroke="#b0b0b0" stroke-width="0.8" stroke-dasharray="0.8 1.32"/>
<line x1="425.58" y1="231.4" x2="425.58" y2="423.3" stroke="#b0b0b0" stroke-width="0.8" stroke-dasharray="0.8 1.32"/>
<line x1="262.5" y1="400.81" x2="458.2" y2="400.81" stroke="#b0b0b0" stroke-width="0.8" stroke-dasharray="0.8 1.32"/>
<line x1="262.5" y1="378.32" x2="458.2" y2="378.32" stroke="#b0b0b0" stroke-width="0.8" stroke-dasharray="0.8 1.32"/>
<line x1="262.5" y1="355.83" x2="458.2" y2="355.83" stroke="#b0b0b0" stroke-width="0.8" stroke-dasharray="0.8 1.32"/>
<line x1="262.5" y1="333.34" x2="458.2" y2="333.34" stroke="#b0b0b0" stroke-width="0.8" stroke-dasharray="0.8 1.32"/>
<line x1="262.5" y1="310.85" x2="458.2" y2="310.85" stroke="#b0b0b0" stroke-width="0.8" stroke-dasharray="0.8 1.32"/>
<line x1="262.5" y1="288.36" x2="458.2" y2="288.36" stroke="#b0b0b0" stroke-width="0.8" stroke-dasharray="0.8 1.32"/>
<line x1="262.5" y1="265.87" x2="458.2" y2="265.87" stroke="#b0b0b0" stroke-width="0.8" stroke-dasharray="0.8 1.32"/>
<line x1="262.5" y1="243.38" x2="458.2" y2="243.38" stroke="#b0b0b0" stroke-width="0.8" stroke-dasharray="0.8 1.32"/>
</g>
<line x1="262.5" y1="423.3" x2="262.5" y2="426.8" stroke="#383838" stroke-width="0.8"/>
<line x1="295.12" y1="423.3" x2="295.12" y2="426.8" stroke="#383838" stroke-width="0.8"/>
<line x1="327.73" y1="423.3" x2="327.73" y2="426.8" stroke="#383838" stroke-width="0.8"/>
<line x1="360.35" y1="423.3" x2="360.35" y2="426.8" stroke="#383838" stroke-width="0.8"/>
<line x1="392.97" y1="423.3" x2="392.97" y2="426.8" stroke="#383838" stroke-width="0.8"/>
<line x1="425.58" y1="423.3" x2="425.58" y2="426.8" stroke="#383838" stroke-width="0.8"/>
<line x1="458.2" y1="423.3" x2="458.2" y2="426.8" stroke="#383838" stroke-width="0.8"/>
<line x1="259" y1="423.3" x2="262.5" y2="423.3" stroke="#383838" stroke-width="0.8"/>
<line x1="259" y1="400.81" x2="262.5" y2="400.81" stroke="#383838" stroke-width="0.8"/>
<line x1="259" y1="378.32" x2="262.5" y2="378.32" stroke="#383838" stroke-width="0.8"/>
<line x1="259" y1="355.83" x2="262.5" y2="355.83" stroke="#383838" stroke-width="0.8"/>
<line x1="259" y1="333.34" x2="262.5" y2="333.34" stroke="#383838" stroke-width="0.8"/>
<line x1="259" y1="310.85" x2="262.5" y2="310.85" stroke="#383838" stroke-width="0.8"/>
<line x1="259" y1="288.36" x2="262.5" y2="288.36" stroke="#383838" stroke-width="0.8"/>
<line x1="259" y1="265.87" x2="262.5" y2="265.87" stroke="#383838" stroke-width="0.8"/>
<line x1="259" y1="243.38" x2="262.5" y2="243.38" stroke="#383838" stroke-width="0.8"/>
<rect x="262.5" y="231.4" width="195.7" height="191.9" fill="none" stroke="#383838" stroke-width="0.9"/>
<text x="262.5" y="437.3" font-size="10.4" text-anchor="middle" textLength="15.9" lengthAdjust="spacingAndGlyphs" fill="#000" stroke="#000" stroke-width="0.22">0.0</text>
<text x="295.12" y="437.3" font-size="10.4" text-anchor="middle" textLength="15.9" lengthAdjust="spacingAndGlyphs" fill="#000" stroke="#000" stroke-width="0.22">0.5</text>
<text x="327.73" y="437.3" font-size="10.4" text-anchor="middle" textLength="15.9" lengthAdjust="spacingAndGlyphs" fill="#000" stroke="#000" stroke-width="0.22">1.0</text>
<text x="360.35" y="437.3" font-size="10.4" text-anchor="middle" textLength="15.9" lengthAdjust="spacingAndGlyphs" fill="#000" stroke="#000" stroke-width="0.22">1.5</text>
<text x="392.97" y="437.3" font-size="10.4" text-anchor="middle" textLength="15.9" lengthAdjust="spacingAndGlyphs" fill="#000" stroke="#000" stroke-width="0.22">2.0</text>
<text x="425.58" y="437.3" font-size="10.4" text-anchor="middle" textLength="15.9" lengthAdjust="spacingAndGlyphs" fill="#000" stroke="#000" stroke-width="0.22">2.5</text>
<text x="458.2" y="437.3" font-size="10.4" text-anchor="middle" textLength="15.9" lengthAdjust="spacingAndGlyphs" fill="#000" stroke="#000" stroke-width="0.22">3.0</text>
<text x="268.7" y="249.1" font-size="17" text-anchor="start" textLength="9" lengthAdjust="spacingAndGlyphs" fill="#000" stroke="#000" stroke-width="0.22">e</text>
<rect x="403.6" y="236.3" width="49.6" height="31.2" rx="2" ry="2" fill="#ffffff" fill-opacity="0.8" stroke="#cccccc" stroke-width="0.8"/>
<line x1="406.3" y1="243.9" x2="427.2" y2="243.9" stroke="#9b3fcf" stroke-width="1.5"/>
<line x1="406.3" y1="258" x2="427.2" y2="258" stroke="#f59a4a" stroke-width="1.5"/>
<text x="434.2" y="247.5" font-size="10.4" text-anchor="start" textLength="7" lengthAdjust="spacingAndGlyphs" fill="#000" stroke="#000" stroke-width="0.22">N</text>
<text x="433.9" y="261.6" font-size="10.4" text-anchor="start" textLength="15.6" lengthAdjust="spacingAndGlyphs" fill="#000" stroke="#000" stroke-width="0.22">SW</text>
<text x="360.8" y="452.1" font-size="11.4" text-anchor="middle" textLength="138.2" lengthAdjust="spacingAndGlyphs" fill="#000" stroke="#000" stroke-width="0.22">Radiative effect (W m<tspan dy="-4.6" font-size="8.6">−2</tspan><tspan dy="4.6">)</tspan></text>
<clipPath id="clip6"><rect x="481.7" y="231.4" width="196.2" height="191.9"/></clipPath><g clip-path="url(#clip6)">
<polygon points="481.7,423.3 481.7,414.87 481.7,406.99 481.7,394.23 481.7,389.56 481.7,381.41 514.12,367.64 481.7,356.95 481.7,344.58 485.97,333.34 481.7,322.09 481.7,310.85 481.7,299.6 483.41,299.6 488.52,310.85 526.91,322.09 668.52,333.34 601.13,344.58 607.95,355.83 678.75,367.07 578.09,378.32 505.59,389.56 481.7,394.23 481.7,406.99 483.41,414.87 487.67,423.3" fill="#4bbcd8" fill-opacity="0.2" stroke="none"/>
<polyline points="481.7,423.3 481.7,393.84 485.11,389.4 594.73,367.07 538.85,355.83 523.5,344.58 579.8,333.34 501.32,322.09 481.7,310.85 481.7,243.38" fill="none" stroke="#4bbcd8" stroke-width="1.5" stroke-linejoin="round" stroke-linecap="butt"/>
<line x1="524.35" y1="231.4" x2="524.35" y2="423.3" stroke="#b0b0b0" stroke-width="0.8" stroke-dasharray="0.8 1.32"/>
<line x1="567" y1="231.4" x2="567" y2="423.3" stroke="#b0b0b0" stroke-width="0.8" stroke-dasharray="0.8 1.32"/>
<line x1="609.66" y1="231.4" x2="609.66" y2="423.3" stroke="#b0b0b0" stroke-width="0.8" stroke-dasharray="0.8 1.32"/>
<line x1="652.31" y1="231.4" x2="652.31" y2="423.3" stroke="#b0b0b0" stroke-width="0.8" stroke-dasharray="0.8 1.32"/>
<line x1="481.7" y1="400.81" x2="677.9" y2="400.81" stroke="#b0b0b0" stroke-width="0.8" stroke-dasharray="0.8 1.32"/>
<line x1="481.7" y1="378.32" x2="677.9" y2="378.32" stroke="#b0b0b0" stroke-width="0.8" stroke-dasharray="0.8 1.32"/>
<line x1="481.7" y1="355.83" x2="677.9" y2="355.83" stroke="#b0b0b0" stroke-width="0.8" stroke-dasharray="0.8 1.32"/>
<line x1="481.7" y1="333.34" x2="677.9" y2="333.34" stroke="#b0b0b0" stroke-width="0.8" stroke-dasharray="0.8 1.32"/>
<line x1="481.7" y1="310.85" x2="677.9" y2="310.85" stroke="#b0b0b0" stroke-width="0.8" stroke-dasharray="0.8 1.32"/>
<line x1="481.7" y1="288.36" x2="677.9" y2="288.36" stroke="#b0b0b0" stroke-width="0.8" stroke-dasharray="0.8 1.32"/>
<line x1="481.7" y1="265.87" x2="677.9" y2="265.87" stroke="#b0b0b0" stroke-width="0.8" stroke-dasharray="0.8 1.32"/>
<line x1="481.7" y1="243.38" x2="677.9" y2="243.38" stroke="#b0b0b0" stroke-width="0.8" stroke-dasharray="0.8 1.32"/>
</g>
<line x1="481.7" y1="423.3" x2="481.7" y2="426.8" stroke="#383838" stroke-width="0.8"/>
<line x1="524.35" y1="423.3" x2="524.35" y2="426.8" stroke="#383838" stroke-width="0.8"/>
<line x1="567" y1="423.3" x2="567" y2="426.8" stroke="#383838" stroke-width="0.8"/>
<line x1="609.66" y1="423.3" x2="609.66" y2="426.8" stroke="#383838" stroke-width="0.8"/>
<line x1="652.31" y1="423.3" x2="652.31" y2="426.8" stroke="#383838" stroke-width="0.8"/>
<line x1="478.2" y1="423.3" x2="481.7" y2="423.3" stroke="#383838" stroke-width="0.8"/>
<line x1="478.2" y1="400.81" x2="481.7" y2="400.81" stroke="#383838" stroke-width="0.8"/>
<line x1="478.2" y1="378.32" x2="481.7" y2="378.32" stroke="#383838" stroke-width="0.8"/>
<line x1="478.2" y1="355.83" x2="481.7" y2="355.83" stroke="#383838" stroke-width="0.8"/>
<line x1="478.2" y1="333.34" x2="481.7" y2="333.34" stroke="#383838" stroke-width="0.8"/>
<line x1="478.2" y1="310.85" x2="481.7" y2="310.85" stroke="#383838" stroke-width="0.8"/>
<line x1="478.2" y1="288.36" x2="481.7" y2="288.36" stroke="#383838" stroke-width="0.8"/>
<line x1="478.2" y1="265.87" x2="481.7" y2="265.87" stroke="#383838" stroke-width="0.8"/>
<line x1="478.2" y1="243.38" x2="481.7" y2="243.38" stroke="#383838" stroke-width="0.8"/>
<rect x="481.7" y="231.4" width="196.2" height="191.9" fill="none" stroke="#383838" stroke-width="0.9"/>
<text x="481.7" y="437.3" font-size="10.4" text-anchor="middle" textLength="15.9" lengthAdjust="spacingAndGlyphs" fill="#000" stroke="#000" stroke-width="0.22">0.0</text>
<text x="524.35" y="437.3" font-size="10.4" text-anchor="middle" textLength="15.9" lengthAdjust="spacingAndGlyphs" fill="#000" stroke="#000" stroke-width="0.22">0.5</text>
<text x="567" y="437.3" font-size="10.4" text-anchor="middle" textLength="15.9" lengthAdjust="spacingAndGlyphs" fill="#000" stroke="#000" stroke-width="0.22">1.0</text>
<text x="609.66" y="437.3" font-size="10.4" text-anchor="middle" textLength="15.9" lengthAdjust="spacingAndGlyphs" fill="#000" stroke="#000" stroke-width="0.22">1.5</text>
<text x="652.31" y="437.3" font-size="10.4" text-anchor="middle" textLength="15.9" lengthAdjust="spacingAndGlyphs" fill="#000" stroke="#000" stroke-width="0.22">2.0</text>
<text x="487.3" y="249.1" font-size="17" text-anchor="start" textLength="7" lengthAdjust="spacingAndGlyphs" fill="#000" stroke="#000" stroke-width="0.22">f</text>
<text x="579.9" y="452.1" font-size="11.4" text-anchor="middle" textLength="174.5" lengthAdjust="spacingAndGlyphs" fill="#000" stroke="#000" stroke-width="0.22">Radiative feedback (PJ d<tspan dy="-4.6" font-size="8.6">−1</tspan><tspan dy="4.6"> K</tspan><tspan dy="-4.6" font-size="8.6">−1</tspan><tspan dy="4.6">)</tspan></text>
<text x="0" y="0" font-size="11.4" text-anchor="middle" textLength="104.2" lengthAdjust="spacingAndGlyphs" fill="#000" stroke="#000" stroke-width="0.22" transform="translate(10.2,99.6) rotate(-90)">Elevation (m a.s.l.)</text>
<text x="0" y="0" font-size="11.4" text-anchor="middle" textLength="104.2" lengthAdjust="spacingAndGlyphs" fill="#000" stroke="#000" stroke-width="0.22" transform="translate(10.2,326.4) rotate(-90)">Elevation (m a.s.l.)</text>
</svg>
</body></html>
